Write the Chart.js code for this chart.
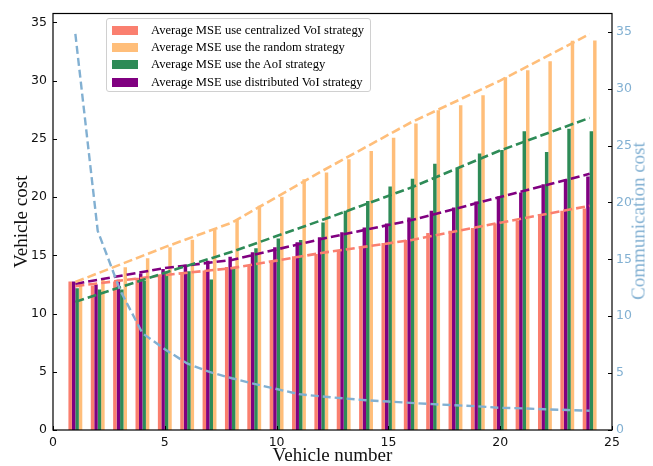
<!DOCTYPE html>
<html><head><meta charset="utf-8">
<script src="https://cdn.jsdelivr.net/npm/chart.js@4/dist/chart.umd.min.js"></script>
<style>
html,body{margin:0;padding:0;background:#fff;}
#wrap{position:relative;width:653px;height:466px;}
#legend{position:absolute;left:106px;top:18px;width:265px;height:74px;border:1px solid #d0d0d0;border-radius:3px;background:rgba(255,255,255,0.85);box-sizing:border-box;font-family:"Liberation Serif","Times New Roman",serif;font-size:12.6px;color:#000;}
.item{position:absolute;left:5px;height:16px;display:flex;align-items:center;white-space:nowrap;}
.sw{width:26px;height:9px;margin-right:13px;flex:none;}
#rtitle{position:absolute;left:638px;top:221px;transform:translate(-50%,-50%) rotate(-90deg);white-space:nowrap;font-family:"Liberation Serif","Times New Roman",serif;font-size:19px;line-height:1;color:#82B0D2;}
</style></head>
<body>
<div id="wrap">
<canvas id="c" width="653" height="466"></canvas>
<div id="legend"></div>
<div id="rtitle">Communication cost</div>
</div>
<script>
// ---- data ----
const vehicles = [1,2,3,4,5,6,7,8,9,10,11,12,13,14,15,16,17,18,19,20,21,22,23,24];
const centralized = [12.75,12.4,12.75,13.08,13.32,13.52,13.69,14.0,14.17,14.46,14.91,15.11,15.4,15.68,16.06,16.31,16.91,17.11,17.34,17.73,17.96,18.54,18.82,19.02];
const randomS     = [12.7,12.95,13.97,14.74,15.68,16.34,17.19,18.05,19.25,20.02,21.53,22.1,23.24,23.95,25.09,26.32,27.46,27.89,28.74,30.28,30.88,31.65,33.42,33.45];
const aoi         = [12.17,12.06,12.06,12.8,13.45,13.62,12.92,13.97,15.6,16.45,16.31,17.82,18.82,19.67,20.9,21.58,22.87,22.44,23.75,24.04,25.66,23.87,25.86,25.66];
const distributed = [12.75,12.49,12.89,13.43,13.82,14.18,14.54,14.87,15.26,15.68,16.11,16.54,16.97,17.39,17.73,18.25,18.82,19.1,19.62,20.05,20.39,21.1,21.53,21.76];
const communication = [34.8,17.5,12.3,8.5,7.1,5.85,5.1,4.55,4.05,3.6,3.15,2.95,2.78,2.62,2.5,2.38,2.27,2.17,2.08,1.95,1.9,1.82,1.76,1.69];
// dashed trend lines (read at a few vehicle numbers)
const trendX = [1,5,8,12,16,20,24];
const trendCentralized = [12.35,13.3,13.9,15.2,16.3,17.8,19.25];
const trendRandom      = [12.7,15.7,17.8,22.2,26.4,30.0,34.0];
const trendAoi         = [11.0,13.5,15.3,18.0,20.8,24.0,26.8];
const trendDistributed = [12.55,13.9,14.6,16.4,18.0,20.0,22.0];
const leftTicks = [0,5,10,15,20,25,30,35];
const rightTicks = [0,5,10,15,20,25,30,35];
const xTicks = [0,5,10,15,20,25];

const C = {salmon:'#FA7F6F', orange:'#FFBE7A', green:'#2E8B57', purple:'#800080', blue:'#82B0D2'};
const labels = {
  centralized:'Average MSE use centralized VoI strategy',
  random:'Average MSE use the random strategy',
  aoi:'Average MSE use the AoI strategy',
  distributed:'Average MSE use distributed VoI strategy'
};

const pts = (xs, ys) => xs.map((x,i)=>({x, y: ys[i]}));
const barDs = (label, ys, color) => ({type:'bar', label, data: pts(vehicles, ys), backgroundColor: color, borderWidth:0, order:2, yAxisID:'y', xAxisID:'x'});
const lineDs = (label, ys, color) => ({type:'line', label, data: pts(trendX, ys), borderColor: color, borderWidth:2.6, borderDash:[9,4], pointRadius:0, tension:0, fill:false, order:1, yAxisID:'y', xAxisID:'x'});

// legend (HTML, real text)
const legendItems = [[labels.centralized,C.salmon],[labels.random,C.orange],[labels.aoi,C.green],[labels.distributed,C.purple]];
const tops = [3,20,37.5,55];
const lg = document.getElementById('legend');
legendItems.forEach(([t,c],i)=>{
  const d = document.createElement('div'); d.className='item'; d.style.top = tops[i]+'px';
  d.innerHTML = '<span class="sw" style="background:'+c+'"></span><span>'+t+'</span>';
  lg.appendChild(d);
});

const frameTicks = {
  id:'frameTicks',
  afterDraw(chart){
    const {ctx, chartArea:a, scales} = chart;
    ctx.save();
    ctx.strokeStyle = '#000'; ctx.lineWidth = 1.2;
    ctx.strokeRect(a.left, a.top, a.right-a.left, a.bottom-a.top);
    ctx.lineWidth = 1;
    const L = 4;
    leftTicks.forEach(v=>{const y=Math.round(scales.y.getPixelForValue(v))+0.5; ctx.beginPath(); ctx.moveTo(a.left,y); ctx.lineTo(a.left+L,y); ctx.stroke();});
    rightTicks.forEach(v=>{const y=Math.round(scales.y1.getPixelForValue(v))+0.5; ctx.beginPath(); ctx.moveTo(a.right,y); ctx.lineTo(a.right-L,y); ctx.stroke();});
    xTicks.forEach(v=>{const x=Math.round(scales.x.getPixelForValue(v))+0.5; ctx.beginPath(); ctx.moveTo(x,a.bottom); ctx.lineTo(x,a.bottom-L); ctx.stroke();});
    ctx.restore();
  }
};

new Chart(document.getElementById('c'), {
  type:'bar',
  data:{
    datasets:[
      {type:'line', label:'Communication cost', data: pts(vehicles, communication), borderColor:C.blue, borderWidth:2.4, borderDash:[8,4], pointRadius:0, tension:0, fill:false, order:0, yAxisID:'y1', xAxisID:'x'},
      lineDs('trend random', trendRandom, C.orange),
      lineDs('trend AoI', trendAoi, C.green),
      lineDs('trend distributed', trendDistributed, C.purple),
      lineDs('trend centralized', trendCentralized, C.salmon),
      barDs(labels.centralized, centralized, C.salmon),
      barDs(labels.distributed, distributed, C.purple),
      barDs(labels.aoi, aoi, C.green),
      barDs(labels.random, randomS, C.orange)
    ]
  },
  options:{
    responsive:false, animation:false, devicePixelRatio:1,
    layout:{padding:{top:12.5,left:0,right:0,bottom:0}},
    datasets:{bar:{categoryPercentage:0.62, barPercentage:1.0, grouped:true}},
    plugins:{legend:{display:false}, tooltip:{enabled:false}},
    scales:{
      x:{type:'linear', position:'bottom', min:0, max:25, offset:false,
        grid:{display:false, drawTicks:false, offset:false}, border:{display:false},
        ticks:{stepSize:5, padding:5, color:'#111', font:{family:'"DejaVu Sans"', size:12.5}},
        title:{display:true, text:'Vehicle number', color:'#111', font:{family:'"Liberation Serif"', size:19, lineHeight:1}, padding:{top:0,bottom:0}},
        afterFit(s){ s.height = 36; }
      },
      y:{type:'linear', position:'left', min:0, max:35.76,
        grid:{display:false, drawTicks:false}, border:{display:false},
        ticks:{stepSize:5, includeBounds:false, padding:6, color:'#111', font:{family:'"DejaVu Sans"', size:12.5}},
        title:{display:true, text:'Vehicle cost', color:'#111', font:{family:'"Liberation Serif"', size:19, lineHeight:1}, padding:{top:13,bottom:0}},
        afterFit(s){ s.width = 53; }
      },
      y1:{type:'linear', position:'right', min:0, max:36.6,
        grid:{display:false, drawTicks:false}, border:{display:false},
        ticks:{stepSize:5, includeBounds:false, padding:4, color:C.blue, font:{family:'"DejaVu Sans"', size:12.5}},
        title:{display:false},
        afterFit(s){ s.width = 41; }
      }
    }
  },
  plugins:[frameTicks]
});
</script>
</body></html>
